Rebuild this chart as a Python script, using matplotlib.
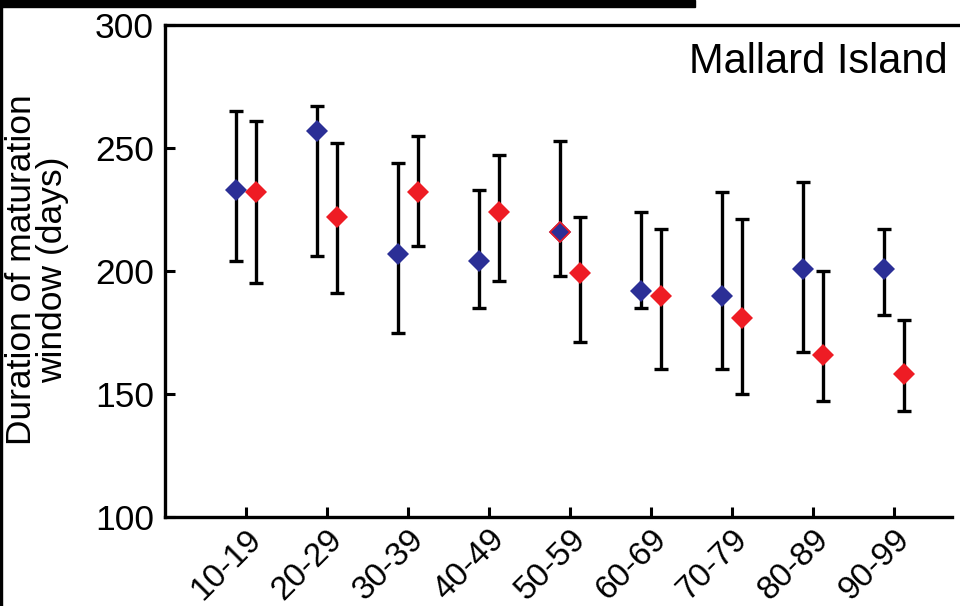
import numpy as np
import matplotlib
matplotlib.use("Agg")
import matplotlib.pyplot as plt
from matplotlib.patches import Rectangle

plt.rcParams['font.family'] = ['Liberation Sans', 'DejaVu Sans']

# age classes (x categories)
groups = ["10-19", "20-29", "30-39", "40-49", "50-59", "60-69", "70-79", "80-89", "90-99"]

# blue series: mean, upper and lower error bar ends
blue_mean = [233, 257, 207, 204, 216, 192, 190, 201, 201]
blue_hi   = [265, 267, 244, 233, 253, 224, 232, 236, 217]
blue_lo   = [204, 206, 175, 185, 198, 185, 160, 167, 182]

# red series
red_mean = [232, 222, 232, 224, 199, 190, 181, 166, 158]
red_hi   = [261, 252, 255, 247, 222, 217, 221, 200, 180]
red_lo   = [195, 191, 210, 196, 171, 160, 150, 147, 143]

blue_c = "#2b2f96"
red_c = "#ee1c24"

fig = plt.figure(figsize=(9.6, 6.06), dpi=100)
ax = fig.add_axes([165/960, 1-517/606, (960-165)/960, (517-25)/606])

x = np.arange(1, len(groups)+1)
off = 0.12

def draw(xs, mean, hi, lo, col):
    mean = np.array(mean); hi = np.array(hi); lo = np.array(lo)
    yerr = [mean-lo, hi-mean]
    ax.errorbar(xs, mean, yerr=yerr, fmt='none', ecolor='black',
                elinewidth=2.4, capsize=5, capthick=2.4, zorder=2)
    ax.plot(xs, mean, 'D', color=col, markersize=11, markeredgewidth=0, zorder=3)

draw(x-off, blue_mean, blue_hi, blue_lo, blue_c)
draw(x+off, red_mean, red_hi, red_lo, red_c)
# the 50-59 blue point has a red rim in the original
ax.plot([5-off], [blue_mean[4]], 'D', color=blue_c, markersize=10,
        markeredgecolor=red_c, markeredgewidth=1.2, zorder=4)

ax.set_xlim(0, 9.815)
ax.set_ylim(100, 300)
ax.set_yticks([100, 150, 200, 250, 300])
ax.set_xticks(x)
ax.set_xticklabels(groups, rotation=45, ha='right', va='top', rotation_mode='anchor')

ax.tick_params(axis='both', direction='in', length=7, width=2.2, labelsize=24)
ax.tick_params(axis='y', pad=8, labelsize=25.5)
ax.tick_params(axis='x', pad=5)
ax.spines['right'].set_visible(False)
for s in ['left', 'top', 'bottom']:
    ax.spines[s].set_linewidth(2.4)
ax.spines['bottom'].set_bounds(0, 9.72)

ax.text(0.985, 0.925, "Mallard Island", transform=ax.transAxes,
        ha='right', va='center', fontsize=30)

fig.text(37/960, 1-270/606, "Duration of maturation\nwindow (days)", rotation=90,
         ha='center', va='center', fontsize=25.5, linespacing=0.95)

# black border pieces from the cropped source figure
fig.patches.append(Rectangle((0, 1-7/606), 695/960, 7/606, transform=fig.transFigure,
                             color='black', zorder=0))
fig.patches.append(Rectangle((0, 0), 2/960, 1, transform=fig.transFigure,
                             color='black', zorder=0))

fig.savefig("out.png", dpi=100)
